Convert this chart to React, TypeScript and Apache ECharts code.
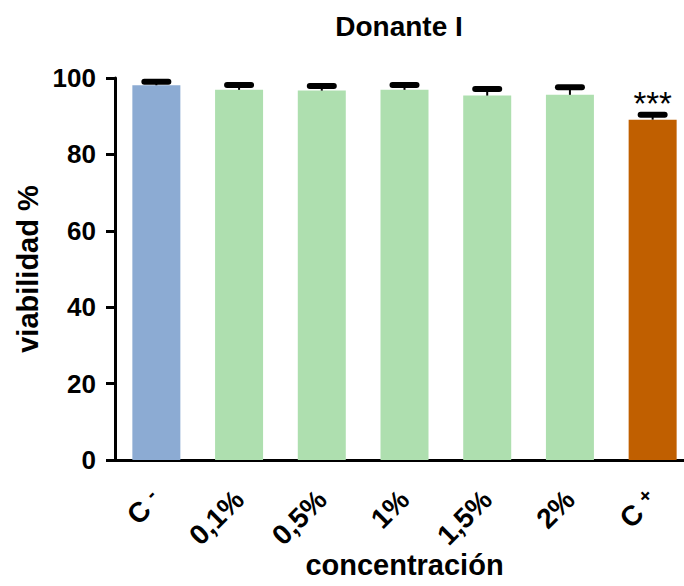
import React, { useEffect, useRef } from "react";
import * as echarts from "echarts";

const categories = ["C -", "0,1%", "0,5%", "1%", "1,5%", "2%", "C +"];
const means = [98.1, 96.9, 96.7, 96.9, 95.4, 95.6, 89.1];
const upperErr = [99.0, 98.2, 97.9, 98.2, 97.1, 97.6, 90.4];
const annotations = ["", "", "", "", "", "", "***"];
const barColors = ["#8CABD3", "#AEDFAF", "#AEDFAF", "#AEDFAF", "#AEDFAF", "#AEDFAF", "#C05F00"];
const yTicks = [0, 20, 40, 60, 80, 100];

const FONT = "'Liberation Sans', Arial, Helvetica, sans-serif";

export default function App() {
  const ref = useRef<HTMLDivElement>(null);
  useEffect(() => {
    if (!ref.current) return;
    const chart = echarts.init(ref.current, undefined, { renderer: "svg" });
    chart.setOption({
      animation: false,
      backgroundColor: "#ffffff",
      title: {
        text: "Donante I",
        left: 394,
        top: 7,
        textAlign: "center",
        textStyle: { fontFamily: FONT, fontWeight: "bold", fontSize: 28, color: "#000" },
      },
      grid: {
        left: 115,
        top: 78,
        width: 579,
        height: 382,
        containLabel: false,
        outerBoundsMode: "none",
      },
      xAxis: {
        type: "category",
        data: categories,
        name: "concentración",
        nameLocation: "middle",
        nameGap: 90,
        nameMoveOverlap: false,
        nameTextStyle: { fontFamily: FONT, fontWeight: "bold", fontSize: 29, color: "#000" },
        axisLine: { lineStyle: { color: "#000", width: 3 } },
        axisTick: { alignWithLabel: true, length: 9, lineStyle: { color: "#000", width: 3 } },
        axisLabel: {
          rotate: 45,
          margin: 35,
          fontFamily: FONT,
          fontWeight: "bold",
          fontSize: 28,
          color: "#000",
          formatter: (v: string) => {
            const m = v.match(/^C (.)$/);
            return m ? `C {sup|${m[1]}}` : v;
          },
          rich: {
            sup: {
              fontFamily: FONT,
              fontWeight: "bold",
              fontSize: 20,
              color: "#000",
              verticalAlign: "top",
              padding: [0, 0, 10, 0],
            },
          },
        },
        splitLine: { show: false },
      },
      yAxis: {
        type: "value",
        min: yTicks[0],
        max: yTicks[yTicks.length - 1],
        interval: 20,
        name: "viabilidad %",
        nameLocation: "middle",
        nameGap: 73,
        nameMoveOverlap: false,
        nameTextStyle: { fontFamily: FONT, fontWeight: "bold", fontSize: 29, color: "#000" },
        axisLine: { show: true, lineStyle: { color: "#000", width: 3 } },
        axisTick: { show: true, length: 9, lineStyle: { color: "#000", width: 3 } },
        axisLabel: { margin: 19, fontFamily: FONT, fontWeight: "bold", fontSize: 26, color: "#000" },
        splitLine: { show: false },
      },
      series: [
        {
          type: "bar",
          barWidth: 48,
          data: means.map((v, i) => ({ value: v, itemStyle: { color: barColors[i] } })),
          z: 2,
        },
        {
          type: "custom",
          z: 5,
          data: upperErr.map((v, i) => [i, v, means[i]]),
          renderItem: (params: any, api: any) => {
            const idx = api.value(0);
            const top = api.coord([idx, api.value(1)]);
            const base = api.coord([idx, api.value(2)]);
            const children: any[] = [
              {
                type: "line",
                shape: { x1: top[0], y1: top[1], x2: base[0], y2: base[1] },
                style: { stroke: "#000", lineWidth: 2 },
              },
              {
                type: "rect",
                shape: { x: top[0] - 15, y: top[1] - 3, width: 30, height: 6, r: 3 },
                style: { fill: "#000" },
              },
            ];
            const ann = annotations[idx];
            if (ann) {
              children.push({
                type: "text",
                style: {
                  text: ann,
                  x: top[0],
                  y: top[1] - 28,
                  align: "center",
                  verticalAlign: "top",
                  fontFamily: FONT,
                  fontSize: 33,
                  fill: "#000",
                },
              });
            }
            return { type: "group", children };
          },
        },
      ],
    });
    return () => chart.dispose();
  }, []);
  return <div ref={ref} style={{ width: 684, height: 586, position: "absolute", left: 0, top: 0 }} />;
}
